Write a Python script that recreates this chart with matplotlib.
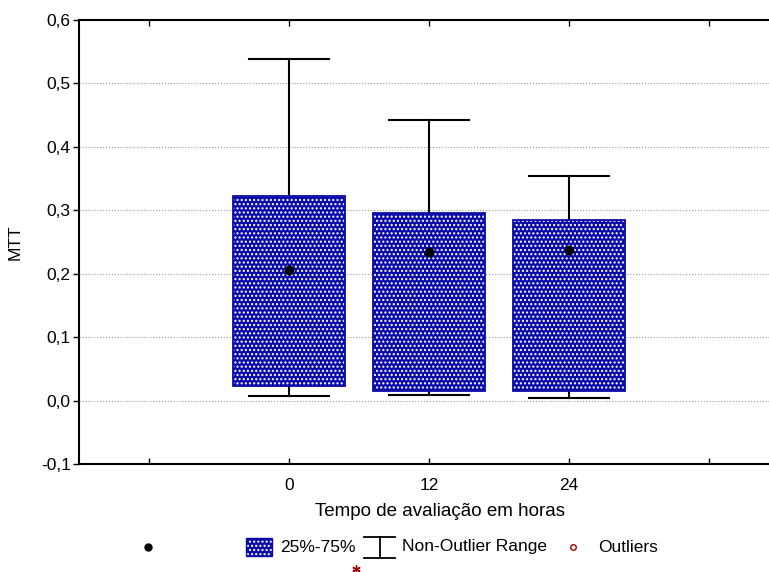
import matplotlib.pyplot as plt
from matplotlib.lines import Line2D
from matplotlib.patches import Rectangle

plt.rcParams['font.family'] = ['Liberation Sans', 'DejaVu Sans']
plt.rcParams['hatch.linewidth'] = 1.0

groups = ['0', '12', '24']
medians = [0.206, 0.234, 0.237]
q1 = [0.023, 0.015, 0.015]
q3 = [0.323, 0.296, 0.285]
whisk_lo = [0.007, 0.009, 0.004]
whisk_hi = [0.538, 0.442, 0.354]

xtick_pos = [-1, 0, 1, 2, 3]
xtick_labels = ['', '0', '12', '24', '']
ytick_vals = [-0.1, 0.0, 0.1, 0.2, 0.3, 0.4, 0.5, 0.6]
ytick_labels = ['-0,1', '0,0', '0,1', '0,2', '0,3', '0,4', '0,5', '0,6']

blue = '#0a0aa8'
fs = 12.5

fig = plt.figure(figsize=(7.69, 5.72), dpi=100)
ax = fig.add_axes([79 / 769, 1 - 464 / 572, 1 - 79 / 769, (464 - 20) / 572])

pos = list(range(len(groups)))

# whiskers
for i in pos:
    ax.plot([i, i], [q3[i], whisk_hi[i]], color='black', lw=1.5, zorder=2)
    ax.plot([i, i], [whisk_lo[i], q1[i]], color='black', lw=1.5, zorder=2)
    ax.plot([i - 0.285, i + 0.285], [whisk_hi[i], whisk_hi[i]], color='black', lw=1.5, zorder=2)
    ax.plot([i - 0.285, i + 0.285], [whisk_lo[i], whisk_lo[i]], color='black', lw=1.5, zorder=2)

heights = [b - a for a, b in zip(q1, q3)]
ax.bar(pos, heights, bottom=q1, width=0.8, color=blue, edgecolor='white',
       hatch='....', linewidth=0, zorder=3)
ax.bar(pos, heights, bottom=q1, width=0.8, fill=False, edgecolor=blue,
       linewidth=1.3, zorder=4)
ax.plot(pos, medians, 'o', color='black', markersize=6, zorder=5)

ax.set_xlim(-1.504, 3.43)
ax.set_ylim(-0.1, 0.6)
ax.set_xticks(xtick_pos)
ax.set_xticklabels(xtick_labels)
ax.set_yticks(ytick_vals)
ax.set_yticklabels(ytick_labels)
ax.tick_params(axis='x', direction='in', top=True, length=4, width=1, labelsize=fs, pad=10)
ax.tick_params(axis='y', direction='out', length=4, width=1, labelsize=fs, pad=2)
ax.yaxis.grid(True, linestyle=':', color='#999999', linewidth=0.8)
ax.set_axisbelow(True)
for s in ax.spines.values():
    s.set_linewidth(1.5)
ax.spines['right'].set_visible(False)

ax.set_ylabel('MTT', fontsize=fs, labelpad=13)
fig.text(440 / 769, 1 - 511 / 572, 'Tempo de avaliação em horas', ha='center', va='center', fontsize=13.5)

# legend row
ly = 1 - 547 / 572
fig.add_artist(Line2D([148 / 769], [ly], marker='o', color='black', markersize=5, linestyle='none'))
rw, rh = 26 / 769, 18 / 572
fig.add_artist(Rectangle((246 / 769, ly - rh / 2), rw, rh, facecolor=blue, edgecolor='white',
                         hatch='....', linewidth=0))
fig.add_artist(Rectangle((246 / 769, ly - rh / 2), rw, rh, fill=False, edgecolor=blue, linewidth=1))
fig.text(280 / 769, ly, '25%-75%', va='center', fontsize=fs)
fig.add_artist(Line2D([364 / 769, 395 / 769], [1 - 558 / 572] * 2, color='black', lw=1.3))
fig.add_artist(Line2D([380 / 769, 380 / 769], [1 - 558 / 572, 1 - 537 / 572], color='black', lw=1.3))
fig.add_artist(Line2D([364 / 769, 395 / 769], [1 - 537 / 572] * 2, color='black', lw=1.3))
fig.text(402 / 769, ly, 'Non-Outlier Range', va='center', fontsize=fs)
fig.add_artist(Line2D([573 / 769], [ly], marker='o', markerfacecolor='none', markeredgecolor='#a00000',
                      markersize=4, linestyle='none'))
fig.text(598 / 769, ly, 'Outliers', va='center', fontsize=fs)
fig.add_artist(Line2D([356 / 769], [1 - 569 / 572], marker=(6, 2, 0), color='#a00000',
                      markersize=6, linestyle='none'))

fig.savefig('out.png', dpi=100)
